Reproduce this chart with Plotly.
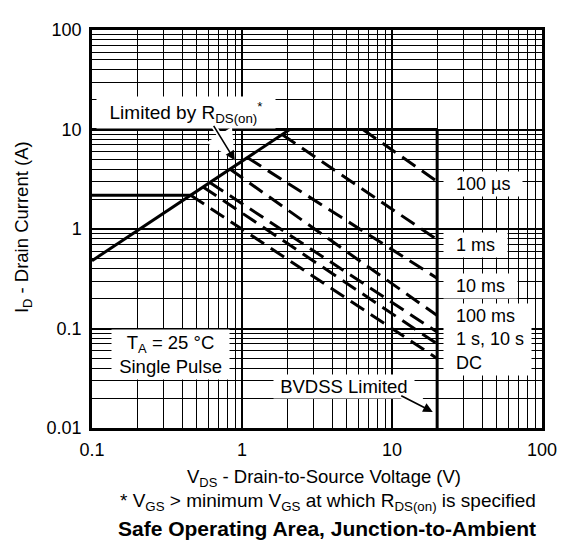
import math
import plotly.graph_objects as go

# ---- data ----
pulse_labels = ["100 µs", "1 ms", "10 ms", "100 ms", "1 s", "10 s", "DC"]
pulse_v_start = [6.4, 1.85, 1.09, 0.83, 0.61, 0.55, 0.455]
pulse_i_start = [10.0, 8.9, 5.2, 4.0, 2.94, 2.65, 2.19]
pulse_v_end = [20, 20, 20, 20, 20, 20, 20]
pulse_i_end = [3.0, 0.78, 0.32, 0.135, 0.092, 0.07, 0.05]

rds_v = [0.1, 2.08]
rds_i = [0.48, 10.0]
idm_v = [0.1, 20]
idm_i = [10.0, 10.0]
id_v = [0.1, 0.455]
id_i = [2.19, 2.19]
bvdss_v = [20, 20]
bvdss_i = [10.0, 0.01]

x_ticks = [0.1, 1, 10, 100]
x_ticklabels = ["0.1", "1", "10", "100"]
y_ticks = [0.01, 0.1, 1, 10, 100]
y_ticklabels = ["0.01", "0.1", "1", "10", "100"]

FONT = "Liberation Sans, Arial, Helvetica, sans-serif"

fig = go.Figure()

for lab, vs, is_, ve, ie in zip(pulse_labels, pulse_v_start, pulse_i_start, pulse_v_end, pulse_i_end):
    fig.add_trace(go.Scatter(x=[vs, ve], y=[is_, ie], mode="lines", name=lab,
                             line=dict(color="black", width=3, dash="16px,8px"),
                             showlegend=False, hoverinfo="skip"))

for xs, ys in [(rds_v, rds_i), (idm_v, idm_i), (id_v, id_i), (bvdss_v, bvdss_i)]:
    fig.add_trace(go.Scatter(x=xs, y=ys, mode="lines",
                             line=dict(color="black", width=3),
                             showlegend=False, hoverinfo="skip"))

minor_x = [m * 10 ** d for d in range(-1, 2) for m in range(2, 10)]
minor_y = [m * 10 ** d for d in range(-2, 2) for m in range(2, 10)]

axis_common = dict(
    showline=True, linecolor="black", linewidth=2.5, mirror=True,
    showgrid=True, gridcolor="black", gridwidth=1.5,
    ticks="", zeroline=False,
    tickfont=dict(family=FONT, size=18, color="black"),
)

fig.update_xaxes(type="log", range=[-1, 2], tickvals=x_ticks, ticktext=x_ticklabels,
                 minor=dict(tickvals=minor_x, showgrid=True, gridcolor="black", gridwidth=1, ticks=""),
                 ticklabelstandoff=4, **axis_common)
fig.update_yaxes(type="log", range=[-2, 2], tickvals=y_ticks, ticktext=y_ticklabels,
                 minor=dict(tickvals=minor_y, showgrid=True, gridcolor="black", gridwidth=1, ticks=""),
                 ticklabelstandoff=4, **axis_common)

# page is offset by the default 8px body margin; positions below are page pixels
W, H = 457, 408


def px(xp):
    return (xp - 92) / W


def py(yp):
    return (428 - yp) / H


def font(size, **kw):
    return dict(family=FONT, size=size, color="black", **kw)


nb = "\u00a0"
annotations = []
# right-hand pulse labels
for text, ycen in [("100 µs", 178), ("1 ms", 240), ("10 ms", 282)]:
    annotations.append(dict(x=px(448), y=py(ycen), xref="paper", yref="paper",
                            text=nb * 2 + text + nb * 2, showarrow=False,
                            xanchor="left", yanchor="middle",
                            bgcolor="white", borderpad=2, font=font(18)))
annotations.append(dict(x=px(448), y=py(337), xref="paper", yref="paper",
                        text=nb * 2 + "100 ms<br>" + nb * 2 + "1 s, 10 s" + nb + "<br>" + nb * 2 + "DC",
                        showarrow=False, xanchor="left", yanchor="middle", align="left",
                        bgcolor="white", borderpad=2, font=font(18)))
# boxed labels
annotations.append(dict(x=px(187.5), y=py(105), xref="paper", yref="paper",
                        text=nb * 2 + "Limited by R<sub>DS(on)</sub><sup>*</sup>" + nb * 2,
                        showarrow=False, xanchor="center", yanchor="middle",
                        bgcolor="white", borderpad=2, font=font(19)))
annotations.append(dict(x=px(171.5), y=py(353), xref="paper", yref="paper",
                        text=nb + "T<sub>A</sub> = 25 °C" + nb + "<br>" + nb + "Single Pulse" + nb,
                        showarrow=False, xanchor="center", yanchor="middle",
                        bgcolor="white", borderpad=2, font=font(18.5)))
annotations.append(dict(x=px(347.5), y=py(385.5), xref="paper", yref="paper",
                        text=nb + "BVDSS Limited" + nb,
                        showarrow=False, xanchor="center", yanchor="middle",
                        bgcolor="white", borderpad=1, font=font(18.5)))
# arrows (white halo + black arrow)
for tipx, tipy, ax, ay in [(0.895, 4.9, -22, -36), (18.7, 0.0145, -33, -17)]:
    for col, w in [("white", 5), ("black", 1.6)]:
        annotations.append(dict(x=math.log10(tipx), y=math.log10(tipy), xref="x", yref="y",
                                ax=ax, ay=ay, axref="pixel", ayref="pixel", text="",
                                showarrow=True, arrowhead=2, arrowsize=1.2, arrowwidth=w,
                                arrowcolor=col))
# axis titles
annotations.append(dict(x=px(22), y=py(222), xref="paper", yref="paper",
                        text="I<sub>D</sub> - Drain Current (A)", textangle=-90,
                        showarrow=False, xanchor="center", yanchor="middle", font=font(18.5)))
annotations.append(dict(x=px(327.5), y=py(479), xref="paper", yref="paper",
                        text="V<sub>DS</sub> - Drain-to-Source Voltage (V)",
                        showarrow=False, xanchor="center", yanchor="middle", font=font(18.5)))
# footnote & title
annotations.append(dict(x=px(331.5), y=py(504), xref="paper", yref="paper",
                        text="* V<sub>GS</sub> > minimum V<sub>GS</sub> at which R<sub>DS(on)</sub> is specified",
                        showarrow=False, xanchor="center", yanchor="middle", font=font(19)))
annotations.append(dict(x=px(331), y=py(531), xref="paper", yref="paper",
                        text="<b>Safe Operating Area, Junction-to-Ambient</b>",
                        showarrow=False, xanchor="center", yanchor="middle", font=font(21)))

fig.update_layout(
    width=561, height=536,
    margin=dict(l=84, r=20, t=12, b=116),
    paper_bgcolor="white", plot_bgcolor="white",
    font=font(18),
    annotations=annotations,
    showlegend=False,
)

fig.write_html("out.html")
